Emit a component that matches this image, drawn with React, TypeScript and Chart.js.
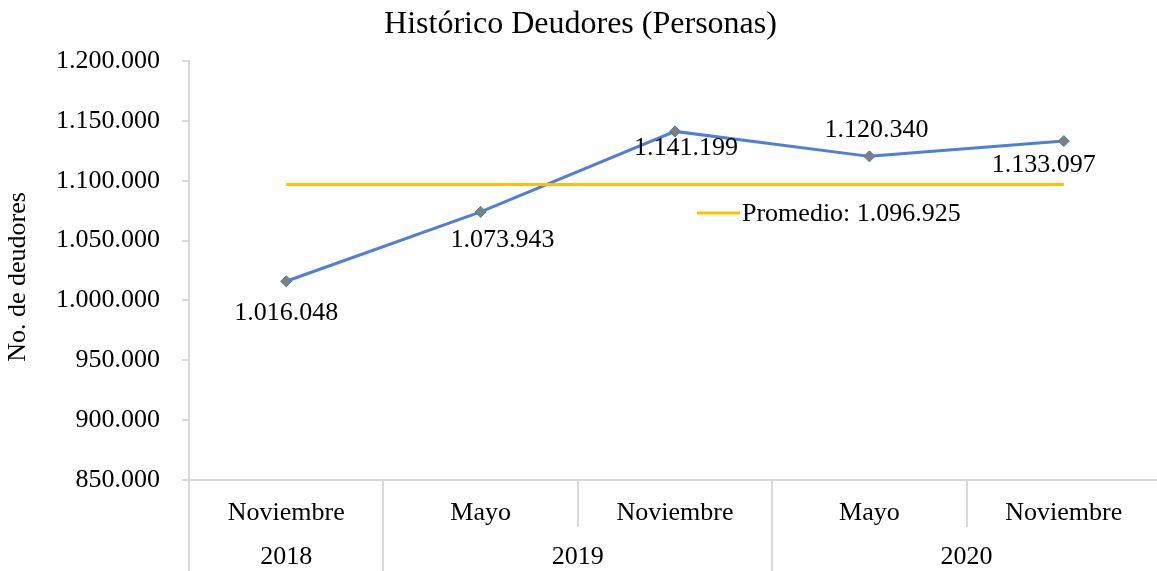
import React, { useEffect, useRef } from "react";
import { Chart, registerables } from "chart.js";

Chart.register(...registerables);

// ---- Data ----
const chartTitle = "Histórico Deudores (Personas)";
const yAxisTitle = "No. de deudores";
const categories = ["Noviembre", "Mayo", "Noviembre", "Mayo", "Noviembre"];
const categoryYears = ["2018", "2019", "2019", "2020", "2020"];
const deudores = [1016048, 1073943, 1141199, 1120340, 1133097];
const promedio = 1096925;
const legendPrefix = "Promedio: ";
const yMin = 850000;
const yMax = 1200000;
const yStep = 50000;

// ---- Styles ----
const FONT = "'Liberation Serif', 'Times New Roman', serif";
const labelOffsets: [number, number][] = [
  [0, 32],
  [22, 28],
  [11, 17],
  [7, -26],
  [-20, 24],
];

const fmt = (n: number) =>
  String(Math.round(n)).replace(/\B(?=(\d{3})+(?!\d))/g, ".");

const groupAxisPlugin = {
  id: "groupAxis",
  afterDraw(chart: any) {
    const { ctx, chartArea, scales } = chart;
    const x = scales.x;
    const n = categories.length;
    const half = (x.getPixelForValue(1) - x.getPixelForValue(0)) / 2;
    ctx.save();
    ctx.strokeStyle = "#d9d9d9";
    ctx.lineWidth = 2;
    for (let i = 0; i <= n; i++) {
      const px = i < n ? x.getPixelForValue(i) - half : x.getPixelForValue(n - 1) + half;
      const long = i === 0 || i === n || categoryYears[i] !== categoryYears[i - 1];
      ctx.beginPath();
      ctx.moveTo(Math.round(px), chartArea.bottom);
      ctx.lineTo(Math.round(px), long ? chart.height : chartArea.bottom + 47);
      ctx.stroke();
    }
    ctx.fillStyle = "#000";
    ctx.font = `26px ${FONT}`;
    ctx.textAlign = "center";
    ctx.textBaseline = "middle";
    let start = 0;
    for (let i = 1; i <= n; i++) {
      if (i === n || categoryYears[i] !== categoryYears[start]) {
        const cx = (x.getPixelForValue(start) + x.getPixelForValue(i - 1)) / 2;
        ctx.fillText(categoryYears[start], cx, chartArea.bottom + 77);
        start = i;
      }
    }
    ctx.restore();
  },
};

const dataLabelPlugin = {
  id: "dataLabels",
  afterDatasetsDraw(chart: any) {
    const { ctx } = chart;
    const meta = chart.getDatasetMeta(0);
    ctx.save();
    ctx.fillStyle = "#000";
    ctx.font = `26px ${FONT}`;
    ctx.textAlign = "center";
    ctx.textBaseline = "middle";
    meta.data.forEach((pt: any, i: number) => {
      const [dx, dy] = labelOffsets[i];
      ctx.fillText(fmt(deudores[i]), pt.x + dx, pt.y + dy);
    });
    // inline legend for average
    const lx = 697;
    const ly = 213;
    ctx.strokeStyle = "#FFC000";
    ctx.lineWidth = 3;
    ctx.beginPath();
    ctx.moveTo(lx, ly);
    ctx.lineTo(lx + 43, ly);
    ctx.stroke();
    ctx.textAlign = "left";
    ctx.fillText(legendPrefix + fmt(promedio), lx + 45, ly + 1);
    ctx.restore();
  },
};

export default function App() {
  const ref = useRef<HTMLCanvasElement | null>(null);

  useEffect(() => {
    document.body.style.margin = "0";
    document.body.style.overflow = "hidden";
    const canvas = ref.current;
    if (!canvas) return;
    const chart = new Chart(canvas, {
      type: "line",
      data: {
        labels: categories,
        datasets: [
          {
            label: "Deudores",
            data: deudores,
            borderColor: "#4F7FD8",
            borderWidth: 3,
            tension: 0,
            pointStyle: "rectRot",
            pointRadius: 5.5,
            pointBackgroundColor: "#7F7F7F",
            pointBorderColor: "#3F7FA8",
            pointBorderWidth: 1,
            order: 1,
          },
          {
            label: "Promedio",
            data: categories.map(() => promedio),
            borderColor: "#FFC000",
            borderWidth: 3,
            pointRadius: 0,
            tension: 0,
            order: 0,
          },
        ],
      },
      options: {
        responsive: false,
        animation: false,
        devicePixelRatio: 1,
        layout: { padding: 0, autoPadding: false },
        plugins: {
          legend: { display: false },
          tooltip: { enabled: false },
          title: {
            display: true,
            text: chartTitle,
            color: "#000",
            font: { family: FONT, size: 32, weight: "normal" },
            padding: { top: 5, bottom: 17.6 },
          },
        },
        scales: {
          x: {
            offset: true,
            grid: { display: false, drawTicks: false },
            border: { display: true, color: "#d9d9d9", width: 2 },
            ticks: {
              color: "#000",
              font: { family: FONT, size: 26 },
              padding: 17.4,
              maxRotation: 0,
              autoSkip: false,
            },
            afterFit: (s: any) => {
              s.height = 91;
              s.paddingLeft = 0;
              s.paddingRight = 0;
            },
          },
          y: {
            min: yMin,
            max: yMax,
            ticks: {
              stepSize: yStep,
              color: "#000",
              font: { family: FONT, size: 26 },
              padding: 22,
              callback: (v: any) => fmt(Number(v)),
            },
            grid: {
              display: true,
              drawOnChartArea: false,
              drawTicks: true,
              tickLength: 7,
              color: "#d9d9d9",
              lineWidth: 2,
            },
            border: { display: true, color: "#d9d9d9", width: 2 },
            title: {
              display: true,
              text: yAxisTitle + "  ",
              color: "#000",
              font: { family: FONT, size: 26 },
              padding: { top: 2.4, bottom: 0 },
            },
            afterFit: (s: any) => {
              s.width = 189;
            },
          },
        },
      },
      plugins: [groupAxisPlugin, dataLabelPlugin],
    } as any);
    return () => chart.destroy();
  }, []);

  return (
    <div style={{ position: "fixed", left: 0, top: 0, width: 1161, height: 571 }}>
      <canvas ref={ref} width={1161} height={571} style={{ width: 1161, height: 571, display: "block" }} />
    </div>
  );
}
